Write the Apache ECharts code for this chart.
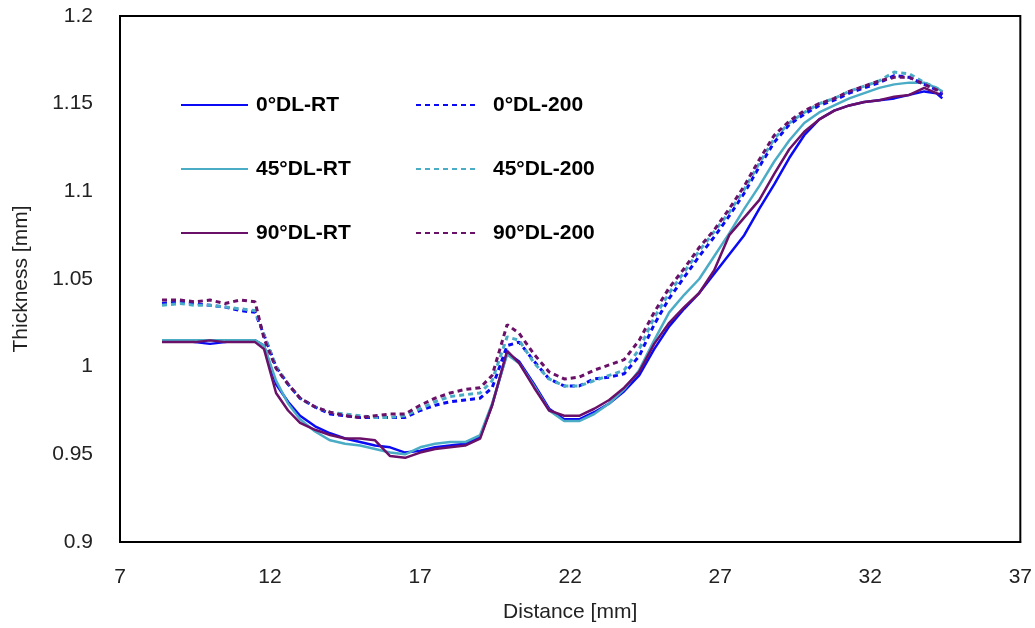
<!DOCTYPE html>
<html><head><meta charset="utf-8">
<script src="https://cdn.jsdelivr.net/npm/echarts@6/dist/echarts.min.js"></script>
<style>html,body{margin:0;padding:0;background:#fff}#c{width:1035px;height:628px}</style>
</head><body><div id="c"></div>
<script>
var distance = [8.4, 9, 9.5, 10, 10.5, 11, 11.5, 11.8, 12.2, 12.6, 13, 13.5, 14, 14.5, 15, 15.5, 16, 16.5, 17, 17.5, 18, 18.5, 19, 19.4, 19.9, 20.3, 20.8, 21.3, 21.8, 22.3, 22.8, 23.3, 23.8, 24.3, 24.8, 25.3, 25.8, 26.3, 26.8, 27.3, 27.8, 28.3, 28.8, 29.3, 29.8, 30.3, 30.8, 31.3, 31.8, 32.3, 32.8, 33.3, 33.8, 34.2, 34.4];
var dl0RT = [1.015, 1.015, 1.014, 1.013, 1.014, 1.015, 1.015, 1.012, 0.990, 0.980, 0.972, 0.966, 0.962, 0.959, 0.957, 0.955, 0.954, 0.951, 0.952, 0.954, 0.955, 0.956, 0.960, 0.978, 1.008, 1.003, 0.990, 0.976, 0.970, 0.970, 0.974, 0.979, 0.986, 0.995, 1.010, 1.023, 1.033, 1.042, 1.053, 1.064, 1.075, 1.090, 1.104, 1.119, 1.132, 1.141, 1.146, 1.149, 1.151, 1.152, 1.153, 1.155, 1.157, 1.156, 1.153];
var dl45RT = [1.015, 1.015, 1.015, 1.015, 1.015, 1.015, 1.015, 1.012, 0.992, 0.979, 0.970, 0.963, 0.958, 0.956, 0.955, 0.953, 0.951, 0.950, 0.954, 0.956, 0.957, 0.957, 0.961, 0.979, 1.007, 1.002, 0.989, 0.975, 0.969, 0.969, 0.973, 0.979, 0.987, 0.998, 1.015, 1.031, 1.041, 1.050, 1.063, 1.076, 1.090, 1.103, 1.117, 1.129, 1.139, 1.145, 1.149, 1.153, 1.156, 1.159, 1.161, 1.162, 1.162, 1.159, 1.157];
var dl90RT = [1.014, 1.014, 1.014, 1.015, 1.014, 1.014, 1.014, 1.010, 0.985, 0.975, 0.968, 0.964, 0.961, 0.959, 0.959, 0.958, 0.949, 0.948, 0.951, 0.953, 0.954, 0.955, 0.959, 0.978, 1.009, 1.002, 0.988, 0.975, 0.972, 0.972, 0.976, 0.981, 0.988, 0.997, 1.013, 1.025, 1.034, 1.042, 1.055, 1.075, 1.085, 1.095, 1.110, 1.124, 1.134, 1.141, 1.146, 1.149, 1.151, 1.152, 1.154, 1.155, 1.159, 1.156, 1.155];
var dl0H = [1.036, 1.037, 1.036, 1.035, 1.034, 1.032, 1.031, 1.018, 1.000, 0.990, 0.982, 0.977, 0.973, 0.972, 0.971, 0.971, 0.971, 0.971, 0.975, 0.978, 0.980, 0.981, 0.982, 0.988, 1.012, 1.014, 1.003, 0.993, 0.989, 0.989, 0.993, 0.994, 0.996, 1.006, 1.024, 1.039, 1.051, 1.063, 1.074, 1.086, 1.099, 1.114, 1.128, 1.138, 1.144, 1.149, 1.152, 1.156, 1.159, 1.162, 1.166, 1.165, 1.161, 1.158, 1.155];
var dl45H = [1.035, 1.036, 1.035, 1.035, 1.034, 1.033, 1.032, 1.018, 1.000, 0.990, 0.982, 0.977, 0.974, 0.973, 0.972, 0.971, 0.971, 0.972, 0.976, 0.980, 0.983, 0.984, 0.985, 0.992, 1.017, 1.015, 1.002, 0.993, 0.989, 0.989, 0.992, 0.995, 0.998, 1.010, 1.028, 1.042, 1.054, 1.066, 1.077, 1.088, 1.101, 1.116, 1.130, 1.139, 1.145, 1.150, 1.153, 1.157, 1.160, 1.163, 1.168, 1.167, 1.162, 1.159, 1.157];
var dl90H = [1.038, 1.038, 1.037, 1.038, 1.036, 1.038, 1.037, 1.016, 0.999, 0.990, 0.982, 0.977, 0.974, 0.972, 0.971, 0.972, 0.973, 0.973, 0.978, 0.982, 0.985, 0.987, 0.988, 0.995, 1.024, 1.019, 1.007, 0.997, 0.993, 0.994, 0.998, 1.001, 1.004, 1.015, 1.031, 1.045, 1.056, 1.068, 1.078, 1.090, 1.103, 1.118, 1.132, 1.140, 1.146, 1.150, 1.153, 1.157, 1.160, 1.163, 1.165, 1.165, 1.161, 1.158, 1.156];
var names = ['0°DL-RT', '45°DL-RT', '90°DL-RT', '0°DL-200', '45°DL-200', '90°DL-200'];

var BLUE = '#0A0AF5', CYAN = '#4BACC6', PURPLE = '#6A1068';
var FONT = '"Liberation Sans", Arial, sans-serif';
function pairs(ys){ return distance.map(function(x,i){ return [x, ys[i]]; }); }
function mk(name, ys, color, dashed){
  return {
    name: name, type: 'line', data: pairs(ys), symbol: 'none', smooth: false,
    lineStyle: { color: color, width: dashed ? 3 : 2.5, type: dashed ? [5, 4] : 'solid', cap: 'butt' },
    itemStyle: { color: color }, z: dashed ? 3 : 2
  };
}
var legText = { fontFamily: FONT, fontSize: 21, fontWeight: 'bold', color: '#000', lineHeight: 22, padding: [0,0,0,3] };
var chart = echarts.init(document.getElementById('c'));
chart.setOption({
  animation: false,
  backgroundColor: '#fff',
  grid: { left: 120, right: 14, top: 16, bottom: 80, show: true, borderColor: '#000', borderWidth: 2, backgroundColor: 'transparent' },
  legend: [
    { data: names.slice(0,3), orient: 'vertical', left: 180, top: 94, padding: 0, itemWidth: 67, itemHeight: 14, itemGap: 42, textStyle: legText, itemStyle: { opacity: 0 } },
    { data: names.slice(3), orient: 'vertical', left: 415, top: 94, padding: 0, itemWidth: 63, itemHeight: 14, itemGap: 42, textStyle: Object.assign({}, legText, {padding:[0,0,0,9]}), itemStyle: { opacity: 0 } }
  ],
  xAxis: {
    type: 'value', min: 7, max: 37, interval: 5,
    name: 'Distance [mm]', nameLocation: 'middle', nameGap: 60,
    nameTextStyle: { fontFamily: FONT, fontSize: 21, color: '#222' },
    axisLine: { show: true, lineStyle: { color: '#000', width: 2 } },
    axisTick: { show: false }, splitLine: { show: false },
    axisLabel: { fontFamily: FONT, fontSize: 21, color: '#222', margin: 25 }
  },
  yAxis: {
    type: 'value', min: 0.9, max: 1.2, interval: 0.05,
    name: 'Thickness [mm]', nameLocation: 'middle', nameGap: 88,
    nameTextStyle: { fontFamily: FONT, fontSize: 21, color: '#222' },
    axisLine: { show: true, lineStyle: { color: '#000', width: 2 } },
    axisTick: { show: false }, splitLine: { show: false },
    axisLabel: { fontFamily: FONT, fontSize: 21, color: '#222', margin: 27,
      formatter: function(v){ return String(parseFloat(v.toFixed(2))); } }
  },
  series: [
    mk(names[0], dl0RT, BLUE, false),
    mk(names[1], dl45RT, CYAN, false),
    mk(names[2], dl90RT, PURPLE, false),
    mk(names[3], dl0H, BLUE, true),
    mk(names[4], dl45H, CYAN, true),
    mk(names[5], dl90H, PURPLE, true)
  ]
});
</script></body></html>
